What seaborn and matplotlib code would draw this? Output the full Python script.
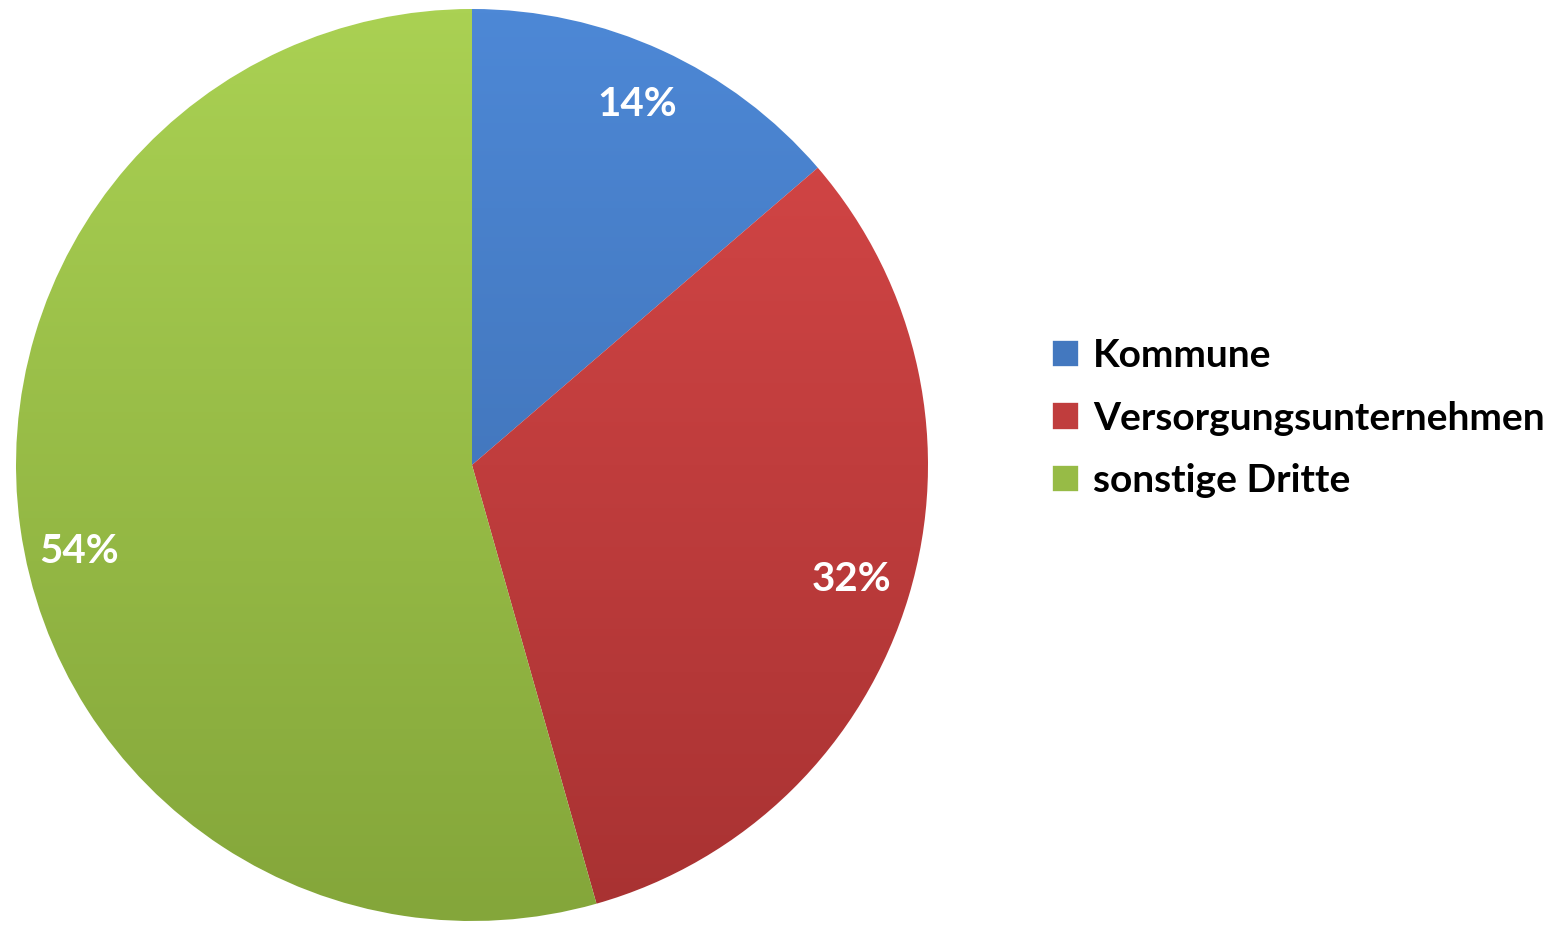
import numpy as np
import seaborn as sns
import matplotlib.pyplot as plt
from matplotlib.colors import LinearSegmentedColormap

sns.set_theme(style='white')
plt.rcParams['font.family'] = ['Lato', 'DejaVu Sans']

# ── data ───────────────────────────────────────────────
categories = ['Kommune', 'Versorgungsunternehmen', 'sonstige Dritte']
shares = [13.7, 31.9, 54.4]   # labels show 14 / 32 / 54

# light (top) / dark (bottom) shade per slice
tops = ['#4d88d6', '#d84848', '#aad153']
bottoms = ['#3a68a8', '#a83232', '#84a63a']
colors = [sns.blend_palette([t, b], 3)[1] for t, b in zip(tops, bottoms)]

fig = plt.figure(figsize=(15.6, 9.25), dpi=100)
cx, cy, r = 472, 465, 456
ax = fig.add_axes([(cx - r) / 1560, (925 - cy - r) / 925, 2 * r / 1560, 2 * r / 925])

wedges, texts, autotexts = ax.pie(
    shares, colors=colors, startangle=90, counterclock=False,
    autopct='%1.0f%%', pctdistance=0.87, radius=1,
    wedgeprops=dict(edgecolor='white', linewidth=1.2),
    textprops=dict(color='white', fontsize=29, fontweight='bold'))

# vertical gradient inside each wedge
grad = np.linspace(0, 1, 256).reshape(-1, 1)
for w, t, b in zip(wedges, tops, bottoms):
    cmap = LinearSegmentedColormap.from_list('g', [t, b])
    im = ax.imshow(grad, cmap=cmap, extent=(-1, 1, -1, 1), origin='upper',
                   aspect='auto', zorder=w.get_zorder() + 0.1)
    im.set_clip_path(w)
for at in autotexts:
    at.set_zorder(5)
# Excel puts the big slice label a bit lower
x, y = autotexts[2].get_position()
autotexts[2].set_position((x, y - 0.07))

ax.set_xlim(-1.0, 1.0)
ax.set_ylim(-1.0, 1.0)
ax.set_aspect('equal')
ax.axis('off')

fig.legend(wedges, categories, loc='center left',
           bbox_to_anchor=(1017 / 1560, 1 - 418 / 925),
           frameon=False, prop=dict(size=28, weight='bold'), labelcolor='black',
           handlelength=0.7, handleheight=0.7, handletextpad=0.35,
           labelspacing=0.7)

fig.savefig('out.png', dpi=100)
